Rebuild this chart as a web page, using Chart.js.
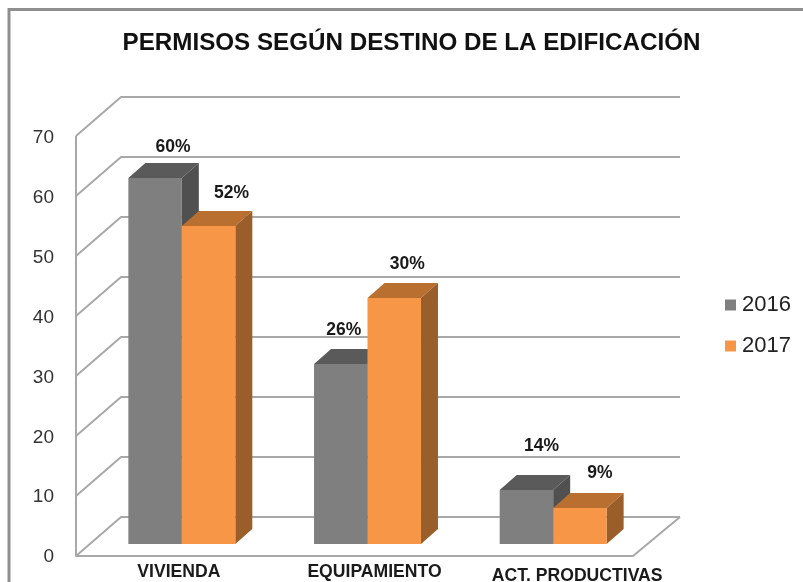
<!DOCTYPE html>
<html><head><meta charset="utf-8">
<style>html,body{margin:0;padding:0;background:#fff;overflow:hidden}canvas{display:block}</style>
<script src="https://cdn.jsdelivr.net/npm/chart.js@4"></script>
</head><body><canvas id="c" width="803" height="582"></canvas>
<script>
const categories = ['VIVIENDA','EQUIPAMIENTO','ACT. PRODUCTIVAS'];
const seriesNames = ['2016','2017'];
const values2016 = [61,30,9];
const values2017 = [53,41,6];
const labels2016 = ['60%','26%','14%'];
const labels2017 = ['52%','30%','9%'];
const yTicks = [0,10,20,30,40,50,60,70];

const sans = '"Liberation Sans",Arial,sans-serif';
const GRAY={front:'#7f7f7f',top:'#5a5a5a',side:'#505050'};
const ORANGE={front:'#f79646',top:'#b96f30',side:'#9a5e2a'};
const styles=[GRAY,ORANGE];
const labelNudge=[[[18,-31],[3,-34],[15,-44]],[[23,-33],[13,-34],[20,-35]]];
const xLabelNudge=[[-3,2],[7,2],[24,6]];
const yLabelShift=-34;
const D={bar:[17,-15],front:[-13,12],back:[32,-27],right:34};

const scene={
  id:'scene',
  afterLayout(c){
    const t=c.titleBlock; t.left=0; t.right=823;
    const l=c.legend; const w=l.width;
    const pad=l.options.labels.padding;
    const colH=l.columnSizes&&l.columnSizes[0]?l.columnSizes[0].height:82;
    l.left=711; l.right=711+w; l.top=275; l.bottom=275+pad+colH; l.height=pad+colH;
  },
  beforeDraw(c){
    const g=c.ctx;
    g.save();
    g.strokeStyle='#8f8f8f'; g.lineWidth=3;
    g.beginPath(); g.moveTo(9,582); g.lineTo(9,9.5); g.lineTo(803,9.5); g.stroke();
    g.restore();
    const x=c.scales.x, y=c.scales.y;
    if(!x._nudged){
      x.getLabelItems(c.chartArea).forEach((it,i)=>{
        it.options.translation[0]+=xLabelNudge[i][0]; it.options.translation[1]+=xLabelNudge[i][1];
      });
      y.getLabelItems(c.chartArea).forEach(it=>{ it.options.translation[0]+=yLabelShift; });
      x._nudged=true;
    }
  },
  beforeDatasetsDraw(c){
    const g=c.ctx,a=c.chartArea,y=c.scales.yBars;
    g.save();
    g.strokeStyle='#a8a8a8'; g.lineWidth=2; g.lineJoin='round';
    const fl=a.left+D.front[0], fr=a.right+D.front[0], bl=a.left+D.back[0], br=a.right+D.right;
    g.beginPath();
    yTicks.forEach(v=>{
      const p=y.getPixelForValue(v);
      g.moveTo(fl,p+D.front[1]); g.lineTo(bl,p+D.back[1]); g.lineTo(br,p+D.back[1]);
    });
    const z=y.getPixelForValue(0), t=y.getPixelForValue(70);
    g.moveTo(fl,t+D.front[1]); g.lineTo(fl,z+D.front[1]); g.lineTo(fr,z+D.front[1]); g.lineTo(br,z+D.back[1]);
    g.stroke();
    [0,1].forEach(d=>{
      c.getDatasetMeta(d).data.forEach(b=>{
        const l=b.x-b.width/2,r=b.x+b.width/2,[dx,dy]=D.bar,bt=b.base;
        g.fillStyle=styles[d].top;
        g.beginPath(); g.moveTo(l,b.y); g.lineTo(l+dx,b.y+dy); g.lineTo(r+dx,b.y+dy); g.lineTo(r,b.y); g.closePath(); g.fill();
        g.fillStyle=styles[d].side;
        g.beginPath(); g.moveTo(r,b.y); g.lineTo(r+dx,b.y+dy); g.lineTo(r+dx,bt+dy); g.lineTo(r,bt); g.closePath(); g.fill();
      });
    });
    g.restore();
  },
  afterDatasetsDraw(c){
    const g=c.ctx;
    g.save();
    g.fillStyle='#1a1a1a'; g.font='bold 17.5px '+sans; g.textAlign='center'; g.textBaseline='middle';
    [labels2016,labels2017].forEach((ls,d)=>{
      c.getDatasetMeta(d).data.forEach((b,i)=>{
        g.fillText(ls[i],b.x+labelNudge[d][i][0],b.y+labelNudge[d][i][1]);
      });
    });
    g.restore();
  }
};

new Chart(document.getElementById('c'),{
  type:'bar',
  data:{labels:categories,datasets:[
    {label:seriesNames[0],data:values2016,backgroundColor:GRAY.front,yAxisID:'yBars',categoryPercentage:0.576,barPercentage:1},
    {label:seriesNames[1],data:values2017,backgroundColor:ORANGE.front,yAxisID:'yBars',categoryPercentage:0.576,barPercentage:1}
  ]},
  options:{
    responsive:false,animation:false,
    layout:{padding:{left:0,right:157,top:0,bottom:0}},
    plugins:{
      tooltip:{enabled:false},
      title:{display:true,text:'PERMISOS SEGÚN DESTINO DE LA EDIFICACIÓN',color:'#111',
        font:{family:sans,size:24.2,weight:'bold'},padding:{top:29,bottom:80}},
      legend:{position:'chartArea',labels:{color:'#222',font:{family:sans,size:22},usePointStyle:true,pointStyle:'rect',boxWidth:1,boxHeight:11,padding:19}}
    },
    scales:{
      x:{grid:{display:false,drawTicks:false},border:{display:false},
        ticks:{color:'#1a1a1a',font:{family:sans,size:17.6,weight:'bold'},padding:3,autoSkip:false,maxRotation:0},
        afterFit(s){s.height=25;}},
      y:{position:'left',min:0,max:70,grid:{display:false,drawTicks:false},border:{display:false},
        ticks:{stepSize:10,color:'#333',font:{family:sans,size:19},padding:1},
        afterFit(s){s.width=89;}},
      yBars:{display:false,min:-13/6,max:67.67,grid:{display:false}}
    }
  },
  plugins:[scene]
});
</script></body></html>
